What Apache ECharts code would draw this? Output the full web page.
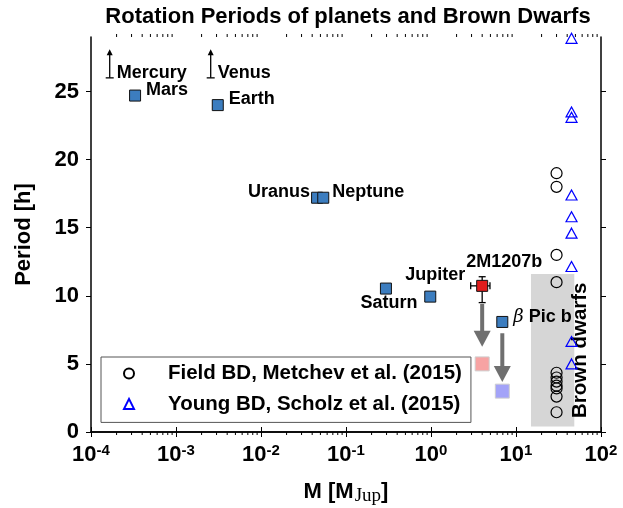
<!DOCTYPE html>
<html><head><meta charset="utf-8">
<script src="https://cdn.jsdelivr.net/npm/echarts@6/dist/echarts.min.js"></script>
<style>html,body{margin:0;padding:0;background:#fff}#c{width:623px;height:508px}</style>
</head><body><div id="c"></div>
<script>
const FONT = "'Liberation Sans', Arial, Helvetica, sans-serif";
// Solar-system planets
const planetNames = ['Mars', 'Earth', 'Uranus', 'Neptune', 'Saturn', 'Jupiter'];
const planetMass = [3.3e-4, 3.1e-3, 0.0457, 0.054, 0.295, 0.98];
const planetPeriod = [24.7, 24.0, 17.2, 17.2, 10.53, 9.94];
// Planets whose period is off the chart (lower limits)
const limitNames = ['Mercury', 'Venus'];
const limitMass = [1.66e-4, 2.56e-3];
const limitBase = [26.0, 26.0];
const limitTip = [28.1, 28.1];
// Exoplanets
const exoNames = ['2M1207b', 'β Pic b'];
const exoMass = [4.0, 6.9];
const exoPeriod = [10.73, 8.08];
const errMassLo = [2.93];
const errMassHi = [4.94];
const errPeriodLo = [9.5];
const errPeriodHi = [11.4];
// Projected (spun-up) periods
const projMass = [4.0, 6.9];
const projPeriod = [5.0, 3.0];
const arrowFrom = [9.4, 7.25];
const arrowTo = [6.26, 3.68];
// Brown dwarfs
const fieldName = 'Field BD, Metchev et al. (2015)';
const fieldMass = 30;
const fieldPeriod = [19.0, 18.0, 13.0, 11.0, 4.35, 4.0, 3.7, 3.4, 3.2, 2.6, 1.45];
const youngName = 'Young BD, Scholz et al. (2015)';
const youngMass = 45;
const youngPeriod = [28.9, 23.5, 23.1, 17.4, 15.8, 14.6, 12.15, 6.65, 5.0];
const bdMassRange = [15, 48.5];
const bdPeriodRange = [0.4, 11.6];
// Axes
const xTickExp = ['-4', '-3', '-2', '-1', '0', '1', '2'];
const yTickLabels = [0, 5, 10, 15, 20, 25];
const minorMult = [2, 3, 4, 5, 6, 7, 8, 9];
const decades = [1e-4, 1e-3, 1e-2, 1e-1, 1, 10];

const X_MIN = 1e-4, X_MAX = 100, Y_MIN = 0, Y_MAX = 29;

const labelPlace = {
  Mars: {position: 'right', distance: 5, offset: [0, -6]},
  Earth: {position: 'right', distance: 5, offset: [0, -6]},
  Uranus: {position: 'left', distance: 1, offset: [0, -5.5]},
  Neptune: {position: 'right', distance: 3, offset: [0, -6]},
  Saturn: {position: 'bottom', distance: 0, offset: [3, -1]},
  Jupiter: {position: 'top', distance: 7, offset: [5, 0]},
  '2M1207b': {position: 'top', distance: 9, offset: [22, 0]},
  'β Pic b': {position: 'right', distance: 5, offset: [0, -5]}
};
const labelFont = {fontFamily: FONT, fontSize: 18, fontWeight: 'bold', color: '#000'};

const minorTicks = [];
decades.forEach(d => minorMult.forEach(m => minorTicks.push([d * m])));

const chart = echarts.init(document.getElementById('c'), null, {renderer: 'canvas'});

function lineEl(x1, y1, x2, y2, style) {
  return {type: 'line', shape: {x1, y1, x2, y2}, style};
}

const axisLineStyle = {color: '#000', width: 1.5};

const option = {
  backgroundColor: '#fff',
  animation: false,
  textStyle: {fontFamily: FONT},
  title: {
    text: 'Rotation Periods of planets and Brown Dwarfs',
    left: 343, top: 1, textAlign: 'center',
    textStyle: {fontFamily: FONT, fontSize: 22, fontWeight: 'bold', color: '#000'}
  },
  grid: {left: 91, right: 22, top: 37, bottom: 76, containLabel: false, outerBoundsMode: 'none'},
  legend: {
    orient: 'vertical', left: 101, top: 357,
    padding: [6, 9, 8, 22], itemGap: 9.4, itemWidth: 10, itemHeight: 10,
    borderColor: '#555', borderWidth: 1, backgroundColor: '#fff',
    data: [fieldName, youngName],
    textStyle: {fontFamily: FONT, fontSize: 20.5, fontWeight: 'bold', color: '#000', lineHeight: 20, padding: [0, 0, 0, 29]}
  },
  xAxis: [{
    type: 'log', logBase: 10, min: X_MIN, max: X_MAX, splitNumber: 6,
    name: '{b|M [M}{j|Jup}{b|]}', nameLocation: 'middle', nameGap: 46,
    nameTextStyle: {rich: {
      b: {fontFamily: FONT, fontSize: 22, fontWeight: 'bold', color: '#000'},
      j: {fontFamily: "'Liberation Serif', 'DejaVu Serif', serif", fontSize: 19, color: '#000', padding: [9, 0, 0, 1]}
    }},
    axisLine: {lineStyle: axisLineStyle},
    axisTick: {inside: false, length: 5, lineStyle: {color: '#000', width: 1}},
    splitLine: {show: false},
    axisLabel: {
      margin: 11,
      formatter: v => {
        const e = Math.round(Math.log10(v));
        const s = xTickExp.find(t => Number(t) === e);
        return '{b|10}{s|' + s + '}';
      },
      rich: {
        b: {fontFamily: FONT, fontSize: 22, fontWeight: 'bold', color: '#000', lineHeight: 24},
        s: {fontFamily: FONT, fontSize: 15, fontWeight: 'bold', color: '#000', verticalAlign: 'top', lineHeight: 24, padding: [0, 0, 10, 0]}
      }
    }
  }, {
    type: 'log', logBase: 10, min: X_MIN, max: X_MAX, splitNumber: 6, position: 'top',
    axisLine: {lineStyle: axisLineStyle},
    axisTick: {inside: false, length: 5, lineStyle: {color: '#000', width: 1}},
    axisLabel: {show: false}, splitLine: {show: false}
  }],
  yAxis: [{
    type: 'value', min: Y_MIN, max: Y_MAX, interval: 5,
    name: 'Period [h]', nameLocation: 'middle', nameGap: 56,
    nameTextStyle: {fontFamily: FONT, fontSize: 22, fontWeight: 'bold', color: '#000'},
    axisLine: {show: true, lineStyle: axisLineStyle},
    axisTick: {show: true, inside: false, length: 5, lineStyle: {color: '#000', width: 1}, customValues: yTickLabels},
    splitLine: {show: false},
    axisLabel: {margin: 12, fontFamily: FONT, fontSize: 22, fontWeight: 'bold', color: '#000', customValues: yTickLabels}
  }, {
    type: 'value', min: Y_MIN, max: Y_MAX, interval: 5, position: 'right',
    axisLine: {show: true, lineStyle: axisLineStyle},
    axisTick: {show: true, inside: false, length: 5, lineStyle: {color: '#000', width: 1}, customValues: yTickLabels},
    axisLabel: {show: false}, splitLine: {show: false}
  }],
  series: [
    { // brown-dwarf region + label
      type: 'custom', name: 'bdRegion', z: 1, silent: true,
      data: [[bdMassRange[0], bdPeriodRange[0], bdMassRange[1], bdPeriodRange[1]]],
      renderItem: (params, api) => {
        const p0 = api.coord([api.value(0), api.value(1)]);
        const p1 = api.coord([api.value(2), api.value(3)]);
        return {type: 'group', children: [
          {type: 'rect', shape: {x: p0[0], y: p1[1], width: p1[0] - p0[0], height: p0[1] - p1[1]}, style: {fill: '#d6d6d6'}},
          {type: 'text', x: p1[0] + 6, y: (p0[1] + p1[1]) / 2, rotation: Math.PI / 2, z2: 10,
           style: {text: 'Brown dwarfs', fontFamily: FONT, fontSize: 20.5, fontWeight: 'bold', fill: '#000', align: 'center', verticalAlign: 'middle'}}
        ]};
      }
    },
    { // minor ticks of log axis (bottom and top)
      type: 'custom', name: 'minorTicks', silent: true, z: 5,
      data: minorTicks,
      renderItem: (params, api) => {
        const b = api.coord([api.value(0), Y_MIN]);
        const t = api.coord([api.value(0), Y_MAX]);
        const st = {stroke: '#000', lineWidth: 1};
        return {type: 'group', children: [lineEl(b[0], b[1], b[0], b[1] + 3, st), lineEl(t[0], t[1], t[0], t[1] - 3, st)]};
      }
    },
    {
      type: 'scatter', name: fieldName, z: 3,
      symbol: 'circle', symbolSize: 11,
      itemStyle: {color: 'rgba(0,0,0,0)', borderColor: '#000', borderWidth: 1.2, opacity: 1},
      data: fieldPeriod.map(p => [fieldMass, p])
    },
    {
      type: 'scatter', name: youngName, z: 3,
      symbol: 'triangle', symbolSize: [11, 10],
      itemStyle: {color: 'rgba(0,0,0,0)', borderColor: '#0000ff', borderWidth: 1.2, opacity: 1},
      data: youngPeriod.map(p => [youngMass, p])
    },
    { // upper arrows for Mercury and Venus
      type: 'custom', name: 'limits', z: 4, silent: true,
      data: limitMass.map((m, i) => [m, limitBase[i], limitTip[i], i]),
      renderItem: (params, api) => {
        const b = api.coord([api.value(0), api.value(1)]);
        const t = api.coord([api.value(0), api.value(2)]);
        const st = {stroke: '#000', lineWidth: 1.3};
        return {type: 'group', children: [
          lineEl(b[0], b[1], b[0], t[1] + 5, st),
          lineEl(b[0] - 4, b[1], b[0] + 4, b[1], st),
          {type: 'polygon', shape: {points: [[b[0], t[1]], [b[0] - 3, t[1] + 6], [b[0] + 3, t[1] + 6]]}, style: {fill: '#000'}},
          {type: 'text', x: b[0] + 7, y: b[1] - 5, style: {text: limitNames[api.value(3)], align: 'left', verticalAlign: 'middle', fill: '#000', fontFamily: FONT, fontSize: 18, fontWeight: 'bold'}}
        ]};
      }
    },
    { // grey arrows from measured to projected periods
      type: 'custom', name: 'arrows', z: 4, silent: true,
      data: projMass.map((m, i) => [m, arrowFrom[i], arrowTo[i]]),
      renderItem: (params, api) => {
        const a = api.coord([api.value(0), api.value(1)]);
        const t = api.coord([api.value(0), api.value(2)]);
        const col = '#6f6f6f';
        return {type: 'group', children: [
          {type: 'rect', shape: {x: a[0] - 2, y: a[1], width: 4, height: t[1] - a[1] - 14}, style: {fill: col}},
          {type: 'polygon', shape: {points: [[a[0], t[1]], [a[0] - 8.5, t[1] - 16], [a[0] + 8.5, t[1] - 16]]}, style: {fill: col}}
        ]};
      }
    },
    {
      type: 'scatter', name: 'projected', z: 3,
      symbol: 'rect', symbolSize: 14,
      data: projMass.map((m, i) => ({value: [m, projPeriod[i]], itemStyle: {opacity: 1, color: i === 0 ? '#f7a3a3' : '#a3a3f8', borderColor: '#cfcfcf', borderWidth: 1}}))
    },
    {
      type: 'scatter', name: 'planets', z: 6,
      symbol: 'rect', symbolSize: 11,
      itemStyle: {color: '#3c7dbf', borderColor: '#111', borderWidth: 1, opacity: 1},
      label: Object.assign({show: true, formatter: '{b}'}, labelFont),
      data: planetMass.map((m, i) => ({
        value: [m, planetPeriod[i]], name: planetNames[i],
        label: labelPlace[planetNames[i]]
      }))
    },
    { // error bars of 2M1207b
      type: 'custom', name: 'errorbars', z: 6, silent: true,
      data: errMassLo.map((v, i) => [exoMass[i], exoPeriod[i], v, errMassHi[i], errPeriodLo[i], errPeriodHi[i]]),
      renderItem: (params, api) => {
        const c = api.coord([api.value(0), api.value(1)]);
        const xl = api.coord([api.value(2), api.value(1)]);
        const xh = api.coord([api.value(3), api.value(1)]);
        const yl = api.coord([api.value(0), api.value(4)]);
        const yh = api.coord([api.value(0), api.value(5)]);
        const st = {stroke: '#000', lineWidth: 1.3};
        return {type: 'group', children: [
          lineEl(xl[0], c[1], xh[0], c[1], st),
          lineEl(xl[0], c[1] - 3.5, xl[0], c[1] + 3.5, st),
          lineEl(xh[0], c[1] - 3.5, xh[0], c[1] + 3.5, st),
          lineEl(c[0], yl[1], c[0], yh[1], st),
          lineEl(c[0] - 3.5, yl[1], c[0] + 3.5, yl[1], st),
          lineEl(c[0] - 3.5, yh[1], c[0] + 3.5, yh[1], st)
        ]};
      }
    },
    {
      type: 'scatter', name: 'exoplanets', z: 7,
      symbol: 'rect', symbolSize: 11,
      label: Object.assign({show: true}, labelFont),
      data: exoMass.map((m, i) => ({
        value: [m, exoPeriod[i]], name: exoNames[i],
        itemStyle: {opacity: 1, color: i === 0 ? '#e01c1c' : '#3c7dbf', borderColor: '#111', borderWidth: 1},
        label: Object.assign({
          formatter: i === 0 ? '{b|2M1207b}' : '{g|β} {b|Pic b}',
          rich: {
            b: labelFont,
            g: {fontFamily: "'DejaVu Serif', 'Liberation Serif', serif", fontStyle: 'italic', fontWeight: 'normal', fontSize: 18, color: '#000'}
          }
        }, labelPlace[exoNames[i]])
      }))
    }
  ]
};
chart.setOption(option);
</script>
</body></html>
